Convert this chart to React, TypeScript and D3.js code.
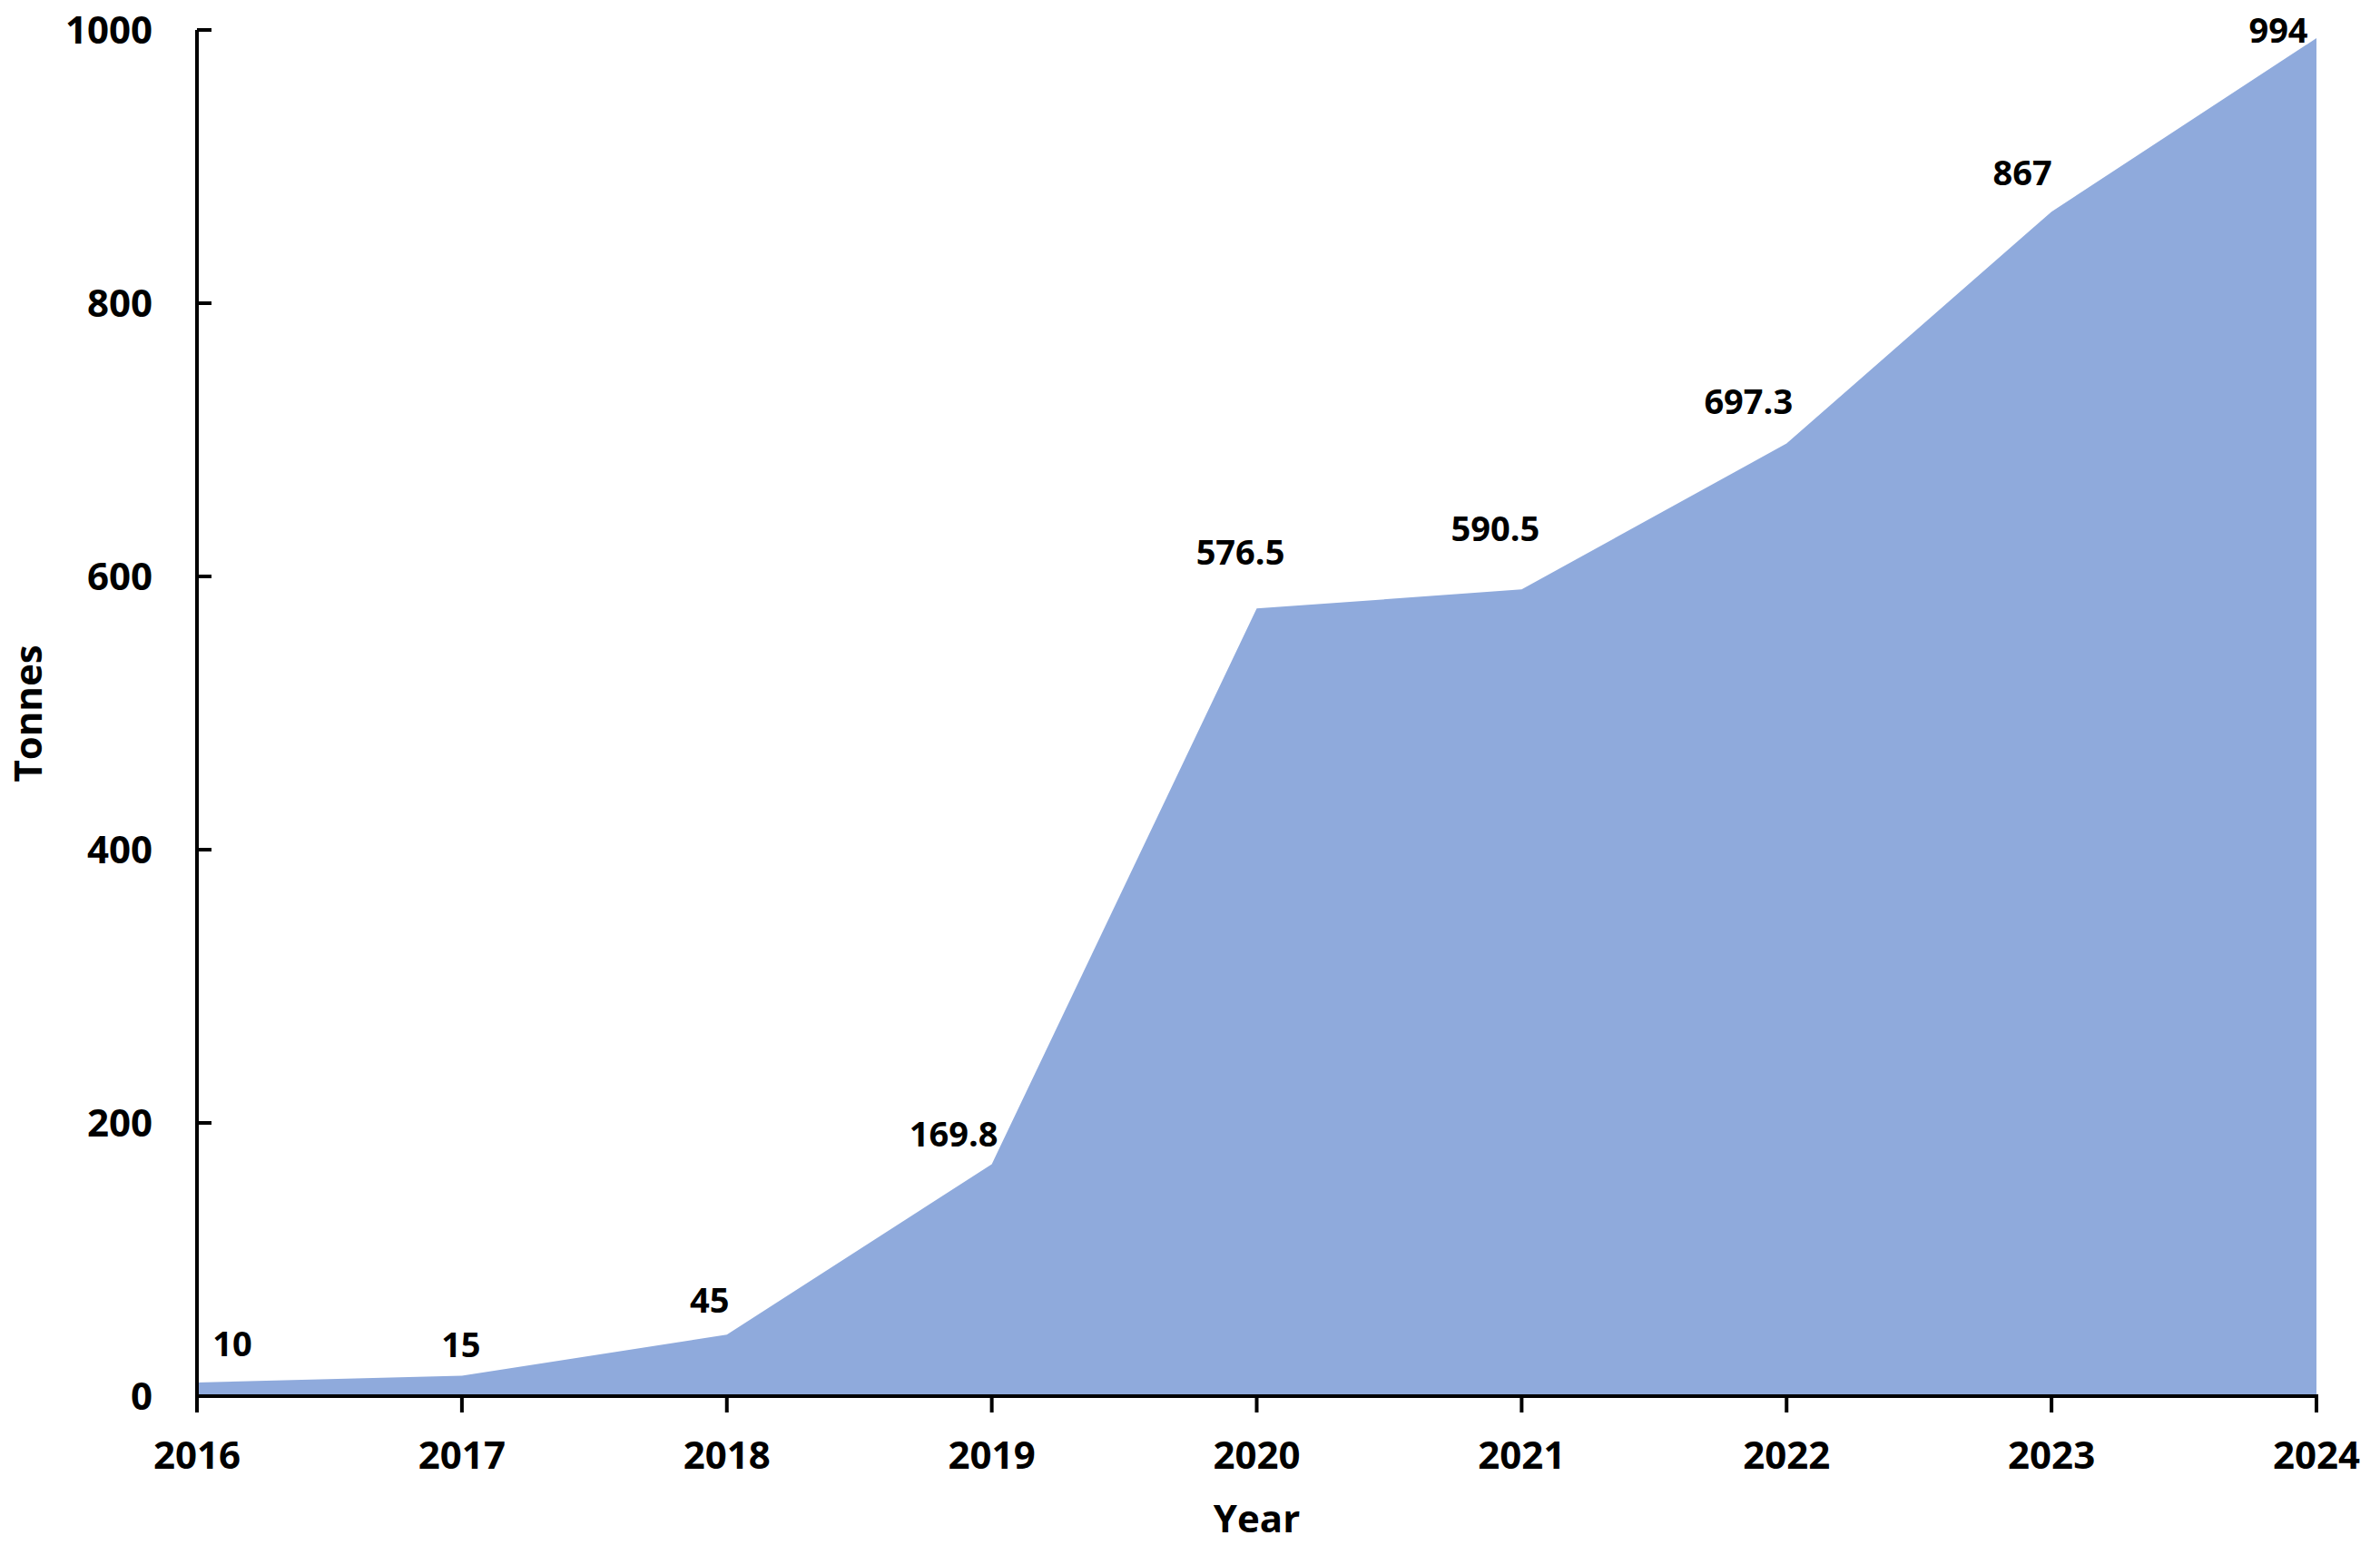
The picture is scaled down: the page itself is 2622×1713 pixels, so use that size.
import React from "react";
import * as d3 from "d3";

const years = [2016, 2017, 2018, 2019, 2020, 2021, 2022, 2023, 2024];
const tonnes = [10, 15, 45, 169.8, 576.5, 590.5, 697.3, 867, 994];
const valueLabels = ["10", "15", "45", "169.8", "576.5", "590.5", "697.3", "867", "994"];
const yTicks = [0, 200, 400, 600, 800, 1000];
// manual label nudges (dx, dy) relative to each point, as in the original
const labelNudgeX = [39, -1, -19, -42, -18, -29, -42, -32, -42];
const labelNudgeY = [-43, -34, -38, -33, -62, -67, -46, -43, -9];

const W = 2622;
const H = 1713;
const FONT = "'Open Sans', 'Noto Sans', sans-serif";

export default function App() {
  const x = d3.scaleLinear().domain([2016, 2024]).range([217, 2552]);
  const y = d3.scaleLinear().domain([0, 1000]).range([1538, 33]);
  const data = years.map((yr, i) => ({ yr, v: tonnes[i] }));
  const area = d3
    .area<{ yr: number; v: number }>()
    .x((d) => x(d.yr))
    .y0(y(0))
    .y1((d) => y(d.v));

  const tickFs = 42;
  const labFs = 38;
  const x0 = x(2016);
  const y0 = y(0);

  return (
    <div style={{ position: "absolute", left: 0, top: 0, width: W, height: H, background: "#fff" }}>
      <svg width={W} height={H} style={{ display: "block" }}>
        <rect x={0} y={0} width={W} height={H} fill="#ffffff" />
        <path d={area(data) || ""} fill="#8FAADC" stroke="none" />

        {/* value labels */}
        {data.map((d, i) => (
          <text
            key={"lab" + i}
            x={x(d.yr) + labelNudgeX[i]}
            y={y(d.v) + labelNudgeY[i] + labFs * 0.357}
            textAnchor="middle"
            fontFamily={FONT}
            fontWeight={700}
            fontSize={labFs}
            fill="#000"
          >
            {valueLabels[i]}
          </text>
        ))}

        {/* y axis */}
        <line x1={x0} x2={x0} y1={y(1000)} y2={y0 + 2} stroke="#000" strokeWidth={4} />
        {yTicks.map((t) => (
          <g key={"yt" + t}>
            <line x1={x0} x2={x0 + 16} y1={y(t)} y2={y(t)} stroke="#000" strokeWidth={4} />
            <text
              x={168}
              y={y(t) + tickFs * 0.357}
              textAnchor="end"
              fontFamily={FONT}
              fontWeight={700}
              fontSize={tickFs}
              fill="#000"
            >
              {t}
            </text>
          </g>
        ))}

        {/* x axis */}
        <line x1={x0 - 2} x2={x(2024) + 2} y1={y0} y2={y0} stroke="#000" strokeWidth={4} />
        {years.map((yr) => (
          <g key={"xt" + yr}>
            <line x1={x(yr)} x2={x(yr)} y1={y0} y2={y0 + 18} stroke="#000" strokeWidth={4} />
            <text
              x={x(yr)}
              y={1618}
              textAnchor="middle"
              fontFamily={FONT}
              fontWeight={700}
              fontSize={tickFs}
              fill="#000"
            >
              {yr}
            </text>
          </g>
        ))}

        {/* axis titles */}
        <text
          x={(x(2016) + x(2024)) / 2}
          y={1688}
          textAnchor="middle"
          fontFamily={FONT}
          fontWeight={700}
          fontSize={tickFs}
          fill="#000"
        >
          Year
        </text>
        <text
          transform={`translate(46, ${786}) rotate(-90)`}
          textAnchor="middle"
          fontFamily={FONT}
          fontWeight={700}
          fontSize={tickFs}
          fill="#000"
        >
          Tonnes
        </text>
      </svg>
    </div>
  );
}
